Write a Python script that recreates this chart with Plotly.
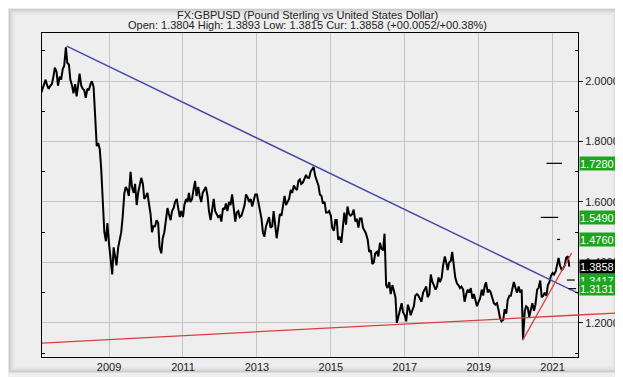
import numpy as np
import pandas as pd
import plotly.graph_objects as go

# ---------------- data (semi-monthly readings of GBPUSD) ----------------
p2007 = [1.960, 1.975, 1.985, 2.005, 1.985, 1.975, 1.985, 1.990, 2.015, 2.045,
         2.030, 1.985, 2.015, 2.005, 2.040, 2.050, 2.112, 2.060, 2.055, 2.005]
p2008 = [1.985, 1.960, 1.990, 1.950, 1.985, 2.025, 1.985, 1.975, 1.970, 1.945, 1.975, 1.970,
         1.990, 2.000, 1.980, 1.870, 1.785, 1.795, 1.775, 1.710, 1.600, 1.500, 1.470, 1.530]
p2009 = [1.460, 1.420, 1.360, 1.450, 1.410, 1.390, 1.450, 1.480, 1.500, 1.550, 1.630, 1.650,
         1.640, 1.620, 1.700, 1.650, 1.630, 1.660, 1.590, 1.630, 1.660, 1.680, 1.660, 1.610]
p2010 = [1.620, 1.630, 1.590, 1.560, 1.500, 1.520, 1.520, 1.540, 1.530, 1.450, 1.430, 1.480,
         1.500, 1.540, 1.580, 1.560, 1.540, 1.570, 1.580, 1.600, 1.610, 1.580, 1.550, 1.570]
p2011 = [1.550, 1.590, 1.610, 1.600, 1.630, 1.600, 1.610, 1.640, 1.670, 1.620, 1.650, 1.620,
         1.600, 1.630, 1.640, 1.650, 1.620, 1.570, 1.540, 1.580, 1.610, 1.570, 1.560, 1.550]
p2012 = [1.555, 1.535, 1.580, 1.575, 1.595, 1.570, 1.600, 1.590, 1.625, 1.580, 1.535, 1.565,
         1.570, 1.550, 1.555, 1.570, 1.590, 1.625, 1.615, 1.600, 1.610, 1.585, 1.610, 1.625]
p2013 = [1.625, 1.600, 1.580, 1.545, 1.500, 1.485, 1.520, 1.535, 1.550, 1.515, 1.520, 1.570,
         1.520, 1.480, 1.520, 1.560, 1.555, 1.590, 1.620, 1.590, 1.600, 1.610, 1.640, 1.630]
p2014 = [1.655, 1.645, 1.640, 1.670, 1.675, 1.660, 1.665, 1.675, 1.690, 1.680, 1.680, 1.700,
         1.710, 1.716, 1.685, 1.670, 1.655, 1.625, 1.620, 1.595, 1.600, 1.565, 1.565, 1.570]
p2015 = [1.555, 1.515, 1.505, 1.540, 1.540, 1.475, 1.485, 1.465, 1.520, 1.565, 1.525, 1.585,
         1.560, 1.555, 1.560, 1.575, 1.535, 1.545, 1.515, 1.545, 1.545, 1.515, 1.505, 1.495]
p2016 = [1.475, 1.435, 1.440, 1.395, 1.400, 1.430, 1.435, 1.420, 1.465, 1.445, 1.440, 1.495,
         1.325, 1.315, 1.335, 1.295, 1.325, 1.310, 1.285, 1.200, 1.225, 1.245, 1.265, 1.235]
p2017 = [1.225, 1.205, 1.260, 1.245, 1.225, 1.240, 1.255, 1.290, 1.295, 1.290, 1.280, 1.270,
         1.300, 1.310, 1.320, 1.285, 1.295, 1.360, 1.335, 1.325, 1.310, 1.320, 1.350, 1.335]
p2018 = [1.350, 1.390, 1.420, 1.400, 1.375, 1.400, 1.405, 1.435, 1.375, 1.350, 1.330, 1.325,
         1.315, 1.320, 1.310, 1.270, 1.295, 1.310, 1.300, 1.315, 1.280, 1.295, 1.275, 1.255]
p2019 = [1.270, 1.280, 1.310, 1.290, 1.320, 1.335, 1.300, 1.310, 1.300, 1.285, 1.265, 1.260,
         1.265, 1.245, 1.215, 1.205, 1.210, 1.245, 1.230, 1.275, 1.290, 1.290, 1.310, 1.335]
p2020 = [1.315, 1.300, 1.320, 1.300, 1.310, 1.145, 1.240, 1.255, 1.250, 1.220, 1.245, 1.265,
         1.240, 1.260, 1.310, 1.315, 1.340, 1.285, 1.290, 1.300, 1.290, 1.325, 1.335, 1.355]
p2021 = [1.365, 1.360, 1.370, 1.400, 1.415, 1.390, 1.375, 1.380, 1.390, 1.415, 1.420, 1.3858]

prices = (p2007 + p2008 + p2009 + p2010 + p2011 + p2012 + p2013 + p2014 + p2015
          + p2016 + p2017 + p2018 + p2019 + p2020 + p2021)
dates = pd.date_range("2007-03-01", periods=len(prices), freq="SMS")

# trend lines (date, value)
blue_dates = ["2007-11-09", "2021-09-09"]
blue_vals = [2.116, 1.298]
red_dates = ["2007-03-10", "2021-09-09"]
red_vals = [1.133, 1.226]
steep_dates = ["2020-03-10", "2021-07-08"]
steep_vals = [1.142, 1.431]

# target levels and their short marks
target_levels = [1.7280, 1.5490, 1.4760, 1.3417, 1.3131]
target_start = ["2020-11-02", "2020-09-06", "2021-02-15", "2021-05-22", "2021-06-07"]
target_end = ["2021-04-04", "2021-02-25", "2021-03-16", "2021-08-08", "2021-08-21"]
current_price = 1.3858

# axis ticks
year_ticks = [f"{y}-01-01" for y in [2009, 2011, 2013, 2015, 2017, 2019, 2021]]
year_labels = ["2009", "2011", "2013", "2015", "2017", "2019", "2021"]
y_ticks = [1.2, 1.4, 1.6, 1.8, 2.0]
y_labels = ["1.2000", "1.4000", "1.6000", "1.8000", "2.0000"]
y_minor = [1.1, 1.3, 1.5, 1.7, 1.9, 2.1]

title1 = "FX:GBPUSD (Pound Sterling vs United States Dollar)"
title2 = "Open: 1.3804 High: 1.3893 Low: 1.3815 Cur: 1.3858 (+00.0052/+00.38%)"

X_RANGE = ["2007-03-10", "2021-09-09"]
Y_RANGE = [1.0869, 2.1594]

FONT = "Liberation Sans, Arial, sans-serif"
W, H = 623, 377
ML, MR, MT, MB = 34, 41, 25, 16
PW, PH = W - ML - MR, H - MT - MB


def px2paper(px, py):
    return (px - ML) / PW, (H - MB - py) / PH


fig = go.Figure()

# bevelled grey frame (background decoration)
frame_cols = ["#c9c9c9", "#d2d2d2", "#dadada", "#e0e0e0", "#e5e5e5",
              "#e9e9e9", "#ececec", "#eeeeee"]
for i, c in enumerate(frame_cols):
    x0, y1 = px2paper(i, i)
    x1, y0 = px2paper(W - i, H - i)
    fig.add_shape(type="rect", xref="paper", yref="paper", x0=x0, x1=x1,
                  y0=y0, y1=y1, fillcolor=c, line=dict(width=0), layer="below")

fig.add_trace(go.Scatter(x=dates, y=prices, mode="lines",
                         line=dict(color="black", width=2.0), hoverinfo="skip"))
fig.add_trace(go.Scatter(x=blue_dates, y=blue_vals, mode="lines",
                         line=dict(color="#4646a8", width=1.4), hoverinfo="skip"))
fig.add_trace(go.Scatter(x=red_dates, y=red_vals, mode="lines",
                         line=dict(color="#d84040", width=1.3), hoverinfo="skip"))
fig.add_trace(go.Scatter(x=steep_dates, y=steep_vals, mode="lines",
                         line=dict(color="#d84040", width=1.3), hoverinfo="skip"))

mx, my = [], []
for s, e, v in zip(target_start, target_end, target_levels):
    mx += [s, e, None]
    my += [v, v, None]
fig.add_trace(go.Scatter(x=mx, y=my, mode="lines",
                         line=dict(color="black", width=1.2), hoverinfo="skip"))
# left-side mirror axis carrier
fig.add_trace(go.Scatter(x=[], y=[], yaxis="y2", hoverinfo="skip"))

# red line extension beyond the plot into the label column
ext = (W - ML) / PW
red_ext_val = red_vals[1] + (ext - 1.0) * (red_vals[1] - red_vals[0])
fig.add_shape(type="line", xref="paper", yref="y", x0=1.0, x1=ext,
              y0=red_vals[1], y1=red_ext_val,
              line=dict(color="#d84040", width=1.3))

# label boxes on the right
for v in target_levels:
    fig.add_annotation(x=1.0, xref="paper", y=v, yref="y", text=f"{v:.4f}",
                       xanchor="left", yanchor="middle", showarrow=False,
                       bgcolor="#1ea51e", width=41, height=13, align="left",
                       borderpad=0, xshift=1,
                       font=dict(family=FONT, size=11, color="white"))
fig.add_annotation(x=1.0, xref="paper", y=current_price, yref="y",
                   text=f"{current_price:.4f}", xanchor="left", yanchor="middle",
                   showarrow=False, bgcolor="black", width=41, height=13,
                   align="left", borderpad=0, xshift=1,
                   font=dict(family=FONT, size=11, color="white"))

fig.add_annotation(x=0.4945, xref="paper", y=1.0565, yref="paper", text=title1,
                   showarrow=False, xanchor="center", yanchor="middle",
                   font=dict(family=FONT, size=11, color="#222"))
fig.add_annotation(x=0.4945, xref="paper", y=1.0238, yref="paper", text=title2,
                   showarrow=False, xanchor="center", yanchor="middle",
                   font=dict(family=FONT, size=11, color="#222"))

fig.update_layout(
    width=W, height=H,
    margin=dict(l=ML, r=MR, t=MT, b=MB),
    paper_bgcolor="#eeeeee", plot_bgcolor="white",
    showlegend=False,
    font=dict(family=FONT, size=11, color="#222"),
    xaxis=dict(type="date", range=X_RANGE, tickmode="array",
               tickvals=year_ticks, ticktext=year_labels,
               showgrid=True, gridcolor="#c4c4c4", gridwidth=1,
               showline=True, linecolor="black", linewidth=1, mirror=True,
               ticks="", zeroline=False),
    yaxis=dict(side="right", range=Y_RANGE, tickmode="array",
               tickvals=y_ticks, ticktext=y_labels,
               showgrid=True, gridcolor="#c4c4c4", gridwidth=1,
               showline=True, linecolor="black", linewidth=1, mirror=True,
               ticks="outside", ticklen=4, tickcolor="black",
               minor=dict(tickmode="array", tickvals=y_minor, ticks="inside",
                          ticklen=3, tickcolor="black", showgrid=False),
               zeroline=False),
    yaxis2=dict(overlaying="y", side="left", range=Y_RANGE, tickmode="array",
                tickvals=y_minor, ticks="inside", ticklen=3, tickcolor="black",
                showticklabels=False, showgrid=False, showline=False,
                zeroline=False),
)

fig.write_html("out.html")
